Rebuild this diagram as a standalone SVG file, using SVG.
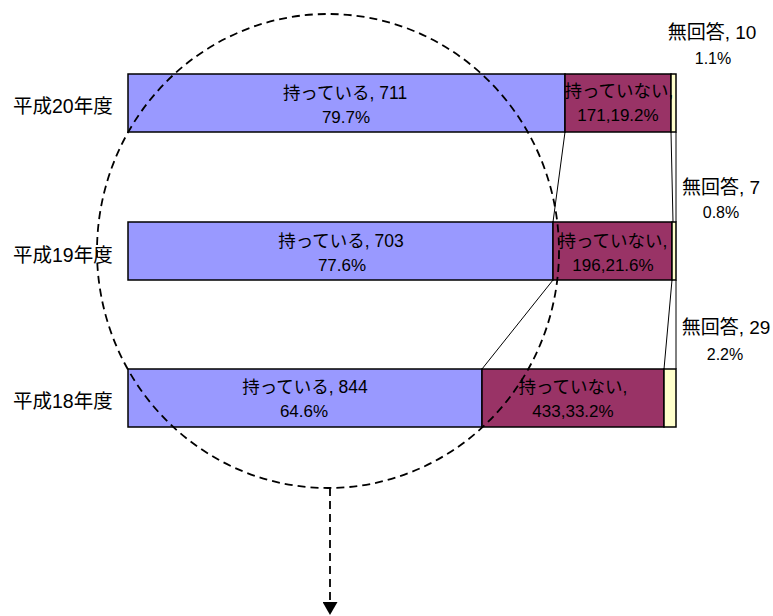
<svg xmlns="http://www.w3.org/2000/svg" width="773" height="616" viewBox="0 0 773 616">
<style>
text{font-family:"Liberation Sans","Noto Sans CJK JP",sans-serif;font-size:17.5px;fill:#000;text-anchor:middle}
.p{font-size:17px}
.cat{text-anchor:start;font-size:19.5px}
.nl{font-size:19px}
.np{font-size:16px}
.seg{stroke:#000;stroke-width:1.5}
.yes{fill:#9999FF}
.no{fill:#993366}
.na{fill:#FFFFCC}
.lead{stroke:#000;stroke-width:1;fill:none}
.dash{stroke:#000;stroke-width:1.8;stroke-dasharray:8 5;fill:none}
</style>
<defs>
<marker id="ah" viewBox="0 0 13 15" refX="13" refY="7.5" markerWidth="13" markerHeight="15" markerUnits="userSpaceOnUse" orient="auto">
<path d="M0,0 L13,7.5 L0,15 z" fill="#000"/>
</marker>
</defs>
<rect width="773" height="616" fill="#fff"/>
<g id="connectors">
<line class="lead" x1="565" y1="132" x2="553" y2="222"/>
<line class="lead" x1="671" y1="132" x2="673" y2="222"/>
<line class="lead" x1="676" y1="132" x2="676" y2="222"/>
<line class="lead" x1="553" y1="280" x2="482" y2="369"/>
<line class="lead" x1="672" y1="280" x2="664" y2="369"/>
<line class="lead" x1="676" y1="280" x2="676" y2="369"/>
</g>
<g id="row-h20">
<rect class="seg yes" x="128" y="74" width="437" height="58"/>
<rect class="seg no" x="565" y="74" width="106" height="58"/>
<rect class="seg na" x="671" y="74" width="5" height="58"/>
<text class="cat" x="13" y="113">平成20年度</text>
<text x="345" y="99">持っている, 711</text>
<text class="p" x="346" y="123">79.7%</text>
<text x="619" y="97">持っていない,</text>
<text class="p" x="618" y="121">171,19.2%</text>
<text class="nl" x="712" y="39">無回答, 10</text>
<text class="np" x="713" y="64">1.1%</text>
</g>
<g id="row-h19">
<rect class="seg yes" x="128" y="222" width="425" height="58"/>
<rect class="seg no" x="553" y="222" width="119" height="58"/>
<rect class="seg na" x="672" y="222" width="4" height="58"/>
<text class="cat" x="13" y="262">平成19年度</text>
<text x="341" y="247">持っている, 703</text>
<text class="p" x="342" y="271">77.6%</text>
<text x="613" y="247">持っていない,</text>
<text class="p" x="613" y="271">196,21.6%</text>
<text class="nl" x="721" y="194">無回答, 7</text>
<text class="np" x="721" y="218">0.8%</text>
</g>
<g id="row-h18">
<rect class="seg yes" x="128" y="369" width="354" height="58"/>
<rect class="seg no" x="482" y="369" width="182" height="58"/>
<rect class="seg na" x="664" y="369" width="12" height="58"/>
<text class="cat" x="13" y="408">平成18年度</text>
<text x="305" y="393">持っている, 844</text>
<text class="p" x="304" y="417">64.6%</text>
<text x="573" y="393">持っていない,</text>
<text class="p" x="573" y="417">433,33.2%</text>
<text class="nl" x="726" y="334">無回答, 29</text>
<text class="np" x="725" y="360">2.2%</text>
</g>
<g id="highlight">
<ellipse class="dash" cx="328" cy="251" rx="231" ry="237"/>
<line class="dash" x1="330" y1="488" x2="330" y2="615" marker-end="url(#ah)"/>
</g>
</svg>
